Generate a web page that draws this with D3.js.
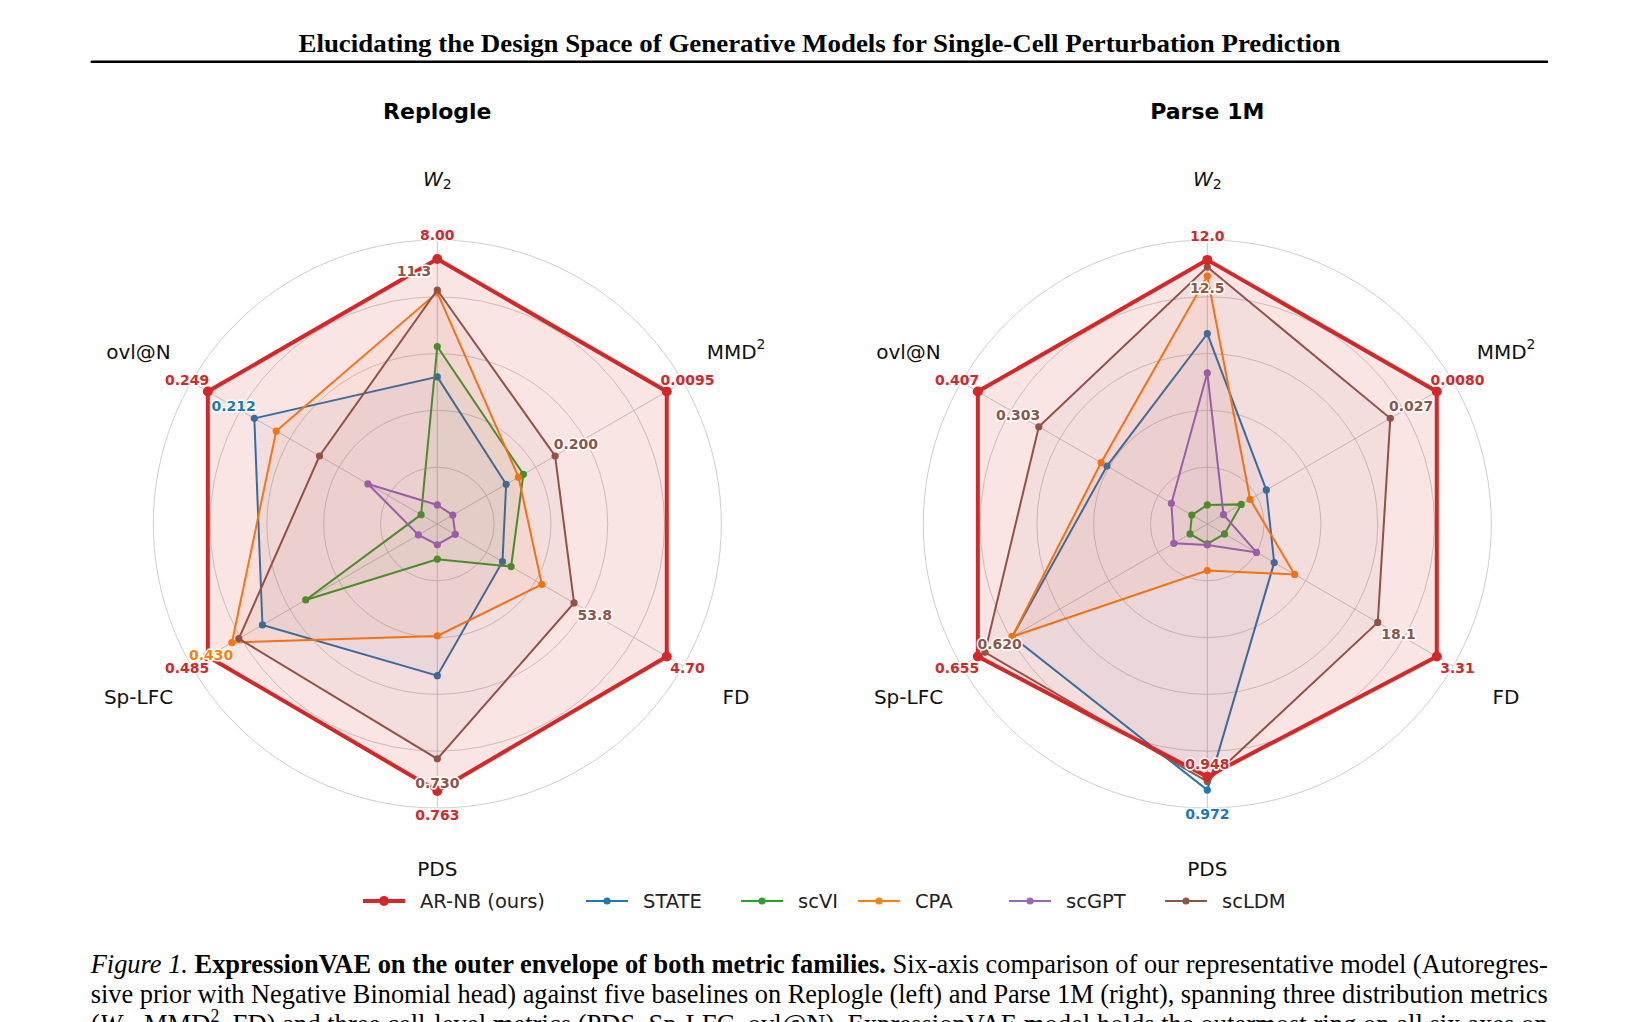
<!DOCTYPE html>
<html>
<head>
<meta charset="utf-8">
<script src="https://cdn.jsdelivr.net/npm/d3@7"></script>
<style>
  body { margin: 0; background: #fff; }
  svg { display: block; }
  .axis-title { font-family: "DejaVu Sans", sans-serif; font-size: 20px; fill: #111; }
  .val { font-family: "DejaVu Sans", sans-serif; font-size: 14px; font-weight: bold;
         stroke: #fff; stroke-width: 3px; paint-order: stroke; stroke-linejoin: round; }
  .panel-title { font-family: "DejaVu Sans", sans-serif; font-size: 22px; font-weight: bold; }
  .legend text { font-family: "DejaVu Sans", sans-serif; font-size: 19.5px; fill: #222; }
  .serif { font-family: "Liberation Serif", "Times New Roman", serif; fill: #000; }
</style>
</head>
<body>
<div id="chart"></div>
<script>
// axes, clockwise from the top
var axes = ["W2", "MMD2", "FD", "PDS", "Sp-LFC", "ovl@N"];
var models = ["AR-NB (ours)", "STATE", "scVI", "CPA", "scGPT", "scLDM"];
var colors = ["#d62728", "#1f77b4", "#2ca02c", "#ff7f0e", "#9467bd", "#8c564b"];

// normalised scores (fraction of the outer ring), order = axes
var repArnb  = [0.933, 0.933, 0.933, 0.940, 0.933, 0.933];
var repState = [0.518, 0.280, 0.265, 0.534, 0.711, 0.744];
var repScvi  = [0.625, 0.350, 0.300, 0.124, 0.535, 0.066];
var repCpa   = [0.815, 0.330, 0.425, 0.394, 0.835, 0.655];
var repScgpt = [0.067, 0.063, 0.073, 0.073, 0.077, 0.282];
var repScldm = [0.824, 0.479, 0.556, 0.827, 0.807, 0.479];

var parArnb  = [0.930, 0.933, 0.933, 0.890, 0.933, 0.933];
var parState = [0.670, 0.240, 0.272, 0.937, 0.793, 0.408];
var parScvi  = [0.067, 0.138, 0.070, 0.070, 0.070, 0.063];
var parCpa   = [0.873, 0.174, 0.355, 0.164, 0.793, 0.432];
var parScgpt = [0.532, 0.066, 0.200, 0.074, 0.136, 0.146];
var parScldm = [0.905, 0.744, 0.693, 0.907, 0.904, 0.685];

// raw values printed on the axes: [axis, text, model]
var repLabels = [
  [0, "8.00", 0], [1, "0.0095", 0], [2, "4.70", 0], [3, "0.763", 0], [4, "0.485", 0], [5, "0.249", 0],
  [0, "11.3", 5], [1, "0.200", 5], [2, "53.8", 5], [3, "0.730", 5], [4, "0.430", 3], [5, "0.212", 1]
];
var parLabels = [
  [0, "12.0", 0], [1, "0.0080", 0], [2, "3.31", 0], [3, "0.948", 0], [4, "0.655", 0], [5, "0.407", 0],
  [0, "12.5", 5], [1, "0.027", 5], [2, "18.1", 5], [3, "0.972", 1], [4, "0.620", 5], [5, "0.303", 5]
];
// labels pushed inwards instead of outwards (index -> offset px)
var repOffsets = {6: 19};
var parOffsets = {6: -21, 3: -13, 10: -17};

var W = 1639, H = 1022, R = 284;
var svg = d3.select("#chart").append("svg").attr("width", W).attr("height", H);

var rScale = d3.scaleLinear().domain([0, 1]).range([0, R]);
var angle = function(i){ return i * 2 * Math.PI / axes.length; };

function axisTitle(g, i, p){
  var t = g.append("text").attr("class", "axis-title")
    .attr("x", p[0]).attr("y", p[1])
    .attr("text-anchor", "middle").attr("dominant-baseline", "central");
  if (axes[i] == "W2") {
    t.append("tspan").attr("font-style", "italic").text("W");
    t.append("tspan").attr("font-size", "14px").attr("dy", 5).text("2");
  } else if (axes[i] == "MMD2") {
    t.append("tspan").text("MMD");
    t.append("tspan").attr("font-size", "14px").attr("dy", -8).text("2");
  } else {
    t.text(axes[i]);
  }
}

function radar(cx, title, series, labels, offsets){
  var g = svg.append("g").attr("transform", "translate(" + cx + ",524)");

  svg.append("text").attr("class", "panel-title")
    .attr("x", cx).attr("y", 119).attr("text-anchor", "middle").text(title);

  // grid
  g.selectAll(".ring").data([0.2, 0.4, 0.6, 0.8, 1.0]).enter().append("circle")
    .attr("r", function(d){ return rScale(d); })
    .attr("fill", "none").attr("stroke", "#cfcfcf").attr("stroke-width", 1);
  g.selectAll(".spoke").data(axes).enter().append("line")
    .attr("x1", 0).attr("y1", 0)
    .attr("x2", function(d, i){ return d3.pointRadial(angle(i), R)[0]; })
    .attr("y2", function(d, i){ return d3.pointRadial(angle(i), R)[1]; })
    .attr("stroke", "#c4c4c4").attr("stroke-width", 0.9);

  axes.forEach(function(a, i){
    axisTitle(g, i, d3.pointRadial(angle(i), 345));
  });

  var line = d3.lineRadial()
    .angle(function(d, i){ return angle(i); })
    .radius(function(d){ return rScale(d); })
    .curve(d3.curveLinearClosed);

  // baselines first, ours on top
  var order = [1, 2, 3, 4, 5, 0];
  order.forEach(function(m){
    var ours = m == 0;
    var s = g.append("g");
    s.append("path").attr("d", line(series[m]))
      .attr("fill", colors[m]).attr("fill-opacity", ours ? 0.12 : 0.05)
      .attr("stroke", colors[m]).attr("stroke-width", ours ? 4 : 2)
      .attr("stroke-linejoin", "miter");
    s.selectAll("circle").data(series[m]).enter().append("circle")
      .attr("cx", function(d, i){ return d3.pointRadial(angle(i), rScale(d))[0]; })
      .attr("cy", function(d, i){ return d3.pointRadial(angle(i), rScale(d))[1]; })
      .attr("r", ours ? 5 : 3.6)
      .attr("fill", colors[m]);
  });

  labels.forEach(function(l, k){
    var off = offsets[k] !== undefined ? offsets[k] : 24;
    var p = d3.pointRadial(angle(l[0]), rScale(series[l[2]][l[0]]) + off);
    var t = g.append("text").attr("class", "val")
      .attr("x", p[0]).attr("y", p[1])
      .attr("text-anchor", "middle").attr("dominant-baseline", "central")
      .attr("fill", colors[l[2]]).text(l[1]);
    // the top label of Replogle sits left of the spoke
    if (title == "Replogle" && k == 6) t.attr("text-anchor", "end").attr("x", p[0] - 6);
  });
}

radar(437.3, "Replogle", [repArnb, repState, repScvi, repCpa, repScgpt, repScldm], repLabels, repOffsets);
radar(1207.3, "Parse 1M", [parArnb, parState, parScvi, parCpa, parScgpt, parScldm], parLabels, parOffsets);

// legend
var legendX = [363, 586, 741, 858, 1009, 1165];
var leg = svg.append("g").attr("class", "legend");
models.forEach(function(m, i){
  var it = leg.append("g").attr("transform", "translate(" + legendX[i] + ",901)");
  it.append("line").attr("x1", 0).attr("x2", 42)
    .attr("stroke", colors[i]).attr("stroke-width", i == 0 ? 4 : 2);
  it.append("circle").attr("cx", 21).attr("r", i == 0 ? 5 : 3.6).attr("fill", colors[i]);
  it.append("text").attr("x", 57).attr("dominant-baseline", "central").text(m);
});

// page header
svg.append("text").attr("class", "serif")
  .attr("x", 819.5).attr("y", 52).attr("text-anchor", "middle")
  .attr("font-size", "25px").attr("font-weight", "bold")
  .attr("textLength", 1042).attr("lengthAdjust", "spacingAndGlyphs")
  .text("Elucidating the Design Space of Generative Models for Single-Cell Perturbation Prediction");
svg.append("line").attr("x1", 90.7).attr("x2", 1548).attr("y1", 61.7).attr("y2", 61.7)
  .attr("stroke", "#000").attr("stroke-width", 2.6);

// caption
var capSize = "27px";
var cap1 = svg.append("text").attr("class", "serif").attr("x", 90.7).attr("y", 973.3)
  .attr("font-size", capSize).attr("textLength", 1457).attr("lengthAdjust", "spacingAndGlyphs");
cap1.append("tspan").attr("font-style", "italic").text("Figure 1. ");
cap1.append("tspan").attr("font-weight", "bold").text("ExpressionVAE on the outer envelope of both metric families. ");
cap1.append("tspan").text("Six-axis comparison of our representative model (Autoregres-");

svg.append("text").attr("class", "serif").attr("x", 90.7).attr("y", 1003.3)
  .attr("font-size", capSize).attr("textLength", 1457).attr("lengthAdjust", "spacingAndGlyphs")
  .text("sive prior with Negative Binomial head) against five baselines on Replogle (left) and Parse 1M (right), spanning three distribution metrics");

var cap3 = svg.append("text").attr("class", "serif").attr("x", 90.7).attr("y", 1033.3)
  .attr("font-size", capSize).attr("textLength", 1457).attr("lengthAdjust", "spacingAndGlyphs");
cap3.append("tspan").text("(");
cap3.append("tspan").attr("font-style", "italic").text("W");
cap3.append("tspan").attr("font-size", "18px").attr("dy", 5).text("2");
cap3.append("tspan").attr("dy", -5).text(", MMD");
cap3.append("tspan").attr("font-size", "18px").attr("dy", -11).text("2");
cap3.append("tspan").attr("dy", 11).text(", FD) and three cell-level metrics (PDS, Sp-LFC, ovl@N). ExpressionVAE model holds the outermost ring on all six axes on");
</script>
</body>
</html>
